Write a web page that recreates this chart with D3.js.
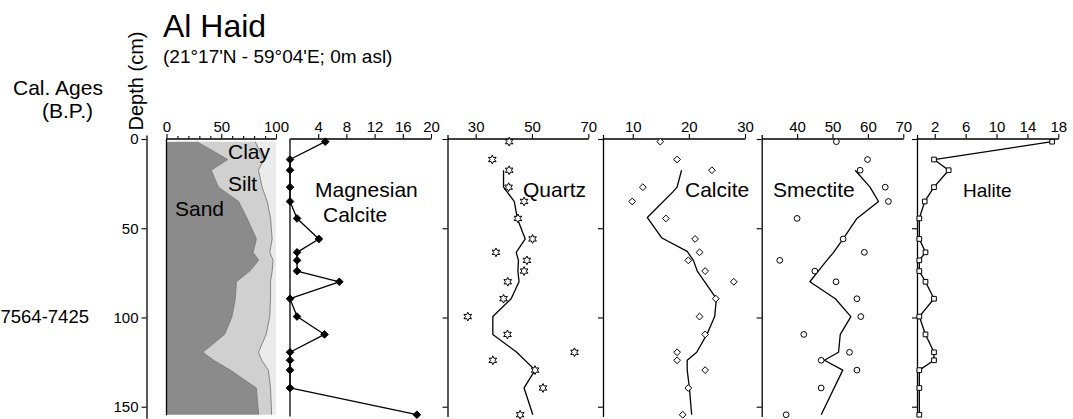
<!DOCTYPE html>
<html><head><meta charset="utf-8">
<script src="https://cdn.jsdelivr.net/npm/d3@7"></script>
<style>
html,body{margin:0;padding:0;background:#fff;}
svg{display:block;font-family:"Liberation Sans",Arial,Helvetica,sans-serif;}
</style></head><body>
<svg id="c" width="1073" height="419"></svg>
<script>
// ---------------- data ----------------
const depths = [1.5, 11.5, 17.5, 27, 35, 44.5, 56, 63.5, 68, 74, 80, 89.5, 99.5, 109.5, 119.5, 124, 129.5, 139.5, 154.5];

const sand = [27.7, 56, 40.8, 47.5, 65.9, 73.6, 82.1, 79, 84.2, 76, 63.8, 62.8, 59.8, 53, 33.2, 43, 58.3, 82, 84.2];
const silt = [53.3, 32.8, 43.2, 39.8, 26.1, 21.4, 14.4, 15.3, 13.2, 20.5, 31.2, 32.2, 34.5, 38, 50.8, 44, 34.7, 13, 11.8];
const clay = [19, 11.2, 16, 12.7, 8, 5, 3.5, 5.7, 2.6, 3.5, 5, 5, 5.7, 9, 16, 13, 7, 5, 4];

const magCalcite = [5.0, 0, 0, 0, 0, 1.0, 4.1, 1.0, 1.0, 1.0, 7.0, 0, 1.0, 4.9, 0, 0, 0, 0, 18.0];

const quartz = [41.9, 35.9, 41.9, 41.7, 47.2, 45.0, 50.2, 37.2, 48.2, 47.2, 41.4, 39.9, 27.2, 41.3, 65.1, 36.1, 51.1, 53.9, 45.8];
const quartzSmoothDepth = [17.5, 27, 35, 44.5, 56, 63.5, 68, 74, 80, 89.5, 99.5, 109.5, 119.5, 129.5, 139.5, 154.5];
const quartzSmooth = [39.9, 39.9, 43.7, 44.8, 47.6, 44.4, 45.2, 45.0, 45.4, 42.6, 36.1, 36.1, 44.6, 51.1, 47.2, 50.3];

const calcite = [14.9, 17.9, 24.1, 11.8, 9.9, 15.9, 21.1, 21.9, 19.9, 22.9, 28.0, 24.8, 21.9, 22.9, 17.9, 17.9, 22.9, 19.9, 18.9];
const calciteSmoothDepth = [17.5, 27, 29.5, 44, 55.5, 63, 68, 74, 89.5, 99.5, 109.5, 119.5, 124, 129.5, 139.5, 154.5];
const calciteSmooth = [18.7, 17.9, 17.2, 12.6, 15.2, 19.7, 20.8, 21.5, 24.9, 24.6, 23.2, 21.4, 19.7, 19.7, 20.1, 20.5];

const smectite = [51.1, 59.9, 57.8, 64.9, 65.8, 40.0, 53.0, 59.0, 35.1, 45.0, 51.0, 56.9, 58.0, 41.9, 54.8, 46.8, 56.9, 46.8, 36.9];
const smectiteSmoothDepth = [17.5, 27, 35, 44.5, 56, 63.5, 69, 80, 89.5, 99.5, 109.5, 119.5, 124, 129.5, 154.5];
const smectiteSmooth = [56.4, 60.6, 63.0, 56.9, 53.0, 50.3, 48.0, 43.6, 50.8, 55.2, 52.2, 51.7, 47.7, 52.9, 46.8];

const halite = [17.2, 1.9, 3.8, 1.9, 0.7, 0, 0, 0.8, 0, 0, 0.8, 1.9, 0, 0.8, 1.9, 1.9, 0, 0, 0];

const depthTicks = [0, 50, 100, 150];
const grainTicks = [0, 10, 20, 30, 40, 50, 60, 70, 80, 90, 100];
const grainLabels = [0, 50, 100];
const magTicks = [4, 8, 12, 16, 20];
const quartzTicks = [30, 50, 70];
const calciteTicks = [10, 20, 30];
const smectiteTicks = [40, 50, 60, 70];
const haliteTicks = [2, 6, 10, 14, 18];

// ---------------- layout ----------------
const svg = d3.select("#c");
const FONT = '"Liberation Sans",Arial,Helvetica,sans-serif';
const axisY = 138.5;
const y = d3.scaleLinear().domain([0, 150]).range([139, 406.7]);
const yPanel = d3.scaleLinear().domain([-2.5, 155.5]).range([y(-2.5), y(155.5)]);
const yDepthAxis = d3.scaleLinear().domain([-2.2, 156.5]).range([y(-2.2), y(156.5)]);

function styleAxis(g, fs) {
  g.selectAll("path.domain").attr("stroke", "#000").attr("stroke-width", 1.3);
  g.selectAll(".tick line").attr("stroke", "#000").attr("stroke-width", 1.1);
  g.selectAll(".tick text").attr("font-size", fs).attr("font-family", FONT).attr("fill", "#000");
}

// ---------------- grain size panel ----------------
const xg = d3.scaleLinear().domain([0, 100]).range([166.5, 276]);
const rows = depths.map((d, i) => ({depth: d, sand: sand[i], silt: silt[i], clay: clay[i]}));
const stacked = d3.stack().keys(["sand", "silt", "clay"])(rows);
const grainColors = {sand: "#8b8b8b", silt: "#d0d0d0", clay: "#ebebeb"};
const area = d3.area().y(d => y(d.data.depth)).x0(d => xg(d[0])).x1(d => xg(d[1]));
svg.append("g").selectAll("path").data(stacked).join("path")
  .attr("d", area).attr("fill", s => grainColors[s.key]).attr("stroke", "none");
const bLine = d3.line().y(d => y(d.data.depth)).x(d => xg(d[1]));
svg.append("g").selectAll("path").data(stacked.slice(0, 2)).join("path")
  .attr("d", bLine).attr("fill", "none").attr("stroke", "#6a6a6a").attr("stroke-width", 0.8);

const gAx = svg.append("g").attr("transform", `translate(0,${axisY})`)
  .call(d3.axisTop(xg).tickValues(grainTicks).tickSize(4.5).tickSizeOuter(0).tickPadding(2)
    .tickFormat(d => grainLabels.includes(d) ? d : ""));
styleAxis(gAx, 15);
gAx.selectAll(".tick").filter(d => !grainLabels.includes(d)).select("line").attr("y2", -2.5);
svg.append("line").attr("x1", xg(0)).attr("x2", xg(0))
  .attr("y1", axisY).attr("y2", y(depths[depths.length - 1] + 0.3))
  .attr("stroke", "#000").attr("stroke-width", 1.3);

// ---------------- depth axis ----------------
const dAx = svg.append("g").attr("transform", "translate(146.5,0)")
  .call(d3.axisLeft(yDepthAxis).tickValues(depthTicks).tickSize(5).tickSizeOuter(0).tickPadding(3));
styleAxis(dAx, 15);

// ---------------- mineral panels ----------------
function starPath(R, r) {
  const pts = [];
  for (let k = 0; k < 12; k++) {
    const a = -Math.PI / 2 + k * Math.PI / 6;
    const rr = k % 2 === 0 ? R : r;
    pts.push([rr * Math.cos(a), rr * Math.sin(a)]);
  }
  return "M" + pts.map(p => p[0].toFixed(2) + "," + p[1].toFixed(2)).join("L") + "Z";
}
function rhombPath(r) { return `M0,${-r}L${r},0L0,${r}L${-r},0Z`; }
const markers = {
  filledDiamond: {d: rhombPath(3.8), fill: "#000"},
  star: {d: starPath(4.4, 2.3), fill: "#fff"},
  diamond: {d: rhombPath(3.4), fill: "#fff"},
  circle: {d: d3.symbol(d3.symbolCircle, 26)(), fill: "#fff"},
  square: {d: d3.symbol(d3.symbolSquare, 22)(), fill: "#fff"}
};

const panels = [
  {name: "mag", values: magCalcite, domain: [0, 20], range: [290, 431], ticks: magTicks, marker: "filledDiamond", side: false},
  {name: "quartz", values: quartz, sDepth: quartzSmoothDepth, sVal: quartzSmooth, domain: [20, 70], range: [447.5, 588.3], ticks: quartzTicks, marker: "star", side: true},
  {name: "calcite", values: calcite, sDepth: calciteSmoothDepth, sVal: calciteSmooth, domain: [4.7, 30], range: [603, 745], ticks: calciteTicks, marker: "diamond", side: true},
  {name: "smectite", values: smectite, sDepth: smectiteSmoothDepth, sVal: smectiteSmooth, domain: [30, 70], range: [761.7, 903.3], ticks: smectiteTicks, marker: "circle", side: true},
  {name: "halite", values: halite, domain: [-0.3, 18], range: [917, 1058.3], ticks: haliteTicks, marker: "square", side: true}
];

panels.forEach(p => {
  const x = d3.scaleLinear().domain(p.domain).range(p.range);
  const ax = svg.append("g").attr("transform", `translate(0,${axisY})`)
    .call(d3.axisTop(x).tickValues(p.ticks).tickSize(4.5).tickSizeOuter(0).tickPadding(2));
  styleAxis(ax, 15);
  if (p.side) {
    const vx = svg.append("g").attr("transform", `translate(${p.range[0]},0)`)
      .call(d3.axisLeft(yPanel).tickValues(depthTicks).tickSize(5).tickSizeOuter(0).tickFormat(""));
    styleAxis(vx, 15);
  } else {
    svg.append("line").attr("x1", p.range[0]).attr("x2", p.range[0])
      .attr("y1", axisY).attr("y2", yPanel(155.5)).attr("stroke", "#000").attr("stroke-width", 1.3);
  }
  const line = d3.line().x(d => x(d[1])).y(d => y(d[0]));
  const lineData = p.sDepth ? p.sDepth.map((d, i) => [d, p.sVal[i]]) : depths.map((d, i) => [d, p.values[i]]);
  svg.append("path").attr("d", line(lineData)).attr("fill", "none")
    .attr("stroke", "#000").attr("stroke-width", 1.3).attr("stroke-linejoin", "round");
  const m = markers[p.marker];
  svg.append("g").selectAll("path").data(depths.map((d, i) => [d, p.values[i]])).join("path")
    .attr("d", m.d).attr("transform", d => `translate(${x(d[1])},${y(d[0])})`)
    .attr("fill", m.fill).attr("stroke", "#000").attr("stroke-width", 1);
});

// ---------------- texts ----------------
function txt(s, xx, yy, fs, anchor) {
  return svg.append("text").attr("x", xx).attr("y", yy).attr("font-size", fs)
    .attr("text-anchor", anchor || "start").attr("fill", "#000").text(s);
}
txt("Al Haid", 163, 37, 32);
txt("(21°17'N - 59°04'E; 0m asl)", 163, 63, 19);
txt("Cal. Ages", 13, 95, 21);
txt("(B.P.)", 42, 118, 21);
txt("7564-7425", 0.5, 323, 18.5);
svg.append("text").attr("transform", "translate(142.5,81) rotate(-90)")
  .attr("text-anchor", "middle").attr("font-size", 20).text("Depth (cm)");
txt("Clay", 228, 159, 21);
txt("Silt", 228, 191, 21);
txt("Sand", 175, 216, 21);
txt("Magnesian", 315, 197, 21);
txt("Calcite", 323, 222, 21);
txt("Quartz", 523, 197, 21);
txt("Calcite", 685, 197, 21);
txt("Smectite", 773, 197, 21);
txt("Halite", 963, 197, 19);
</script>
</body></html>
